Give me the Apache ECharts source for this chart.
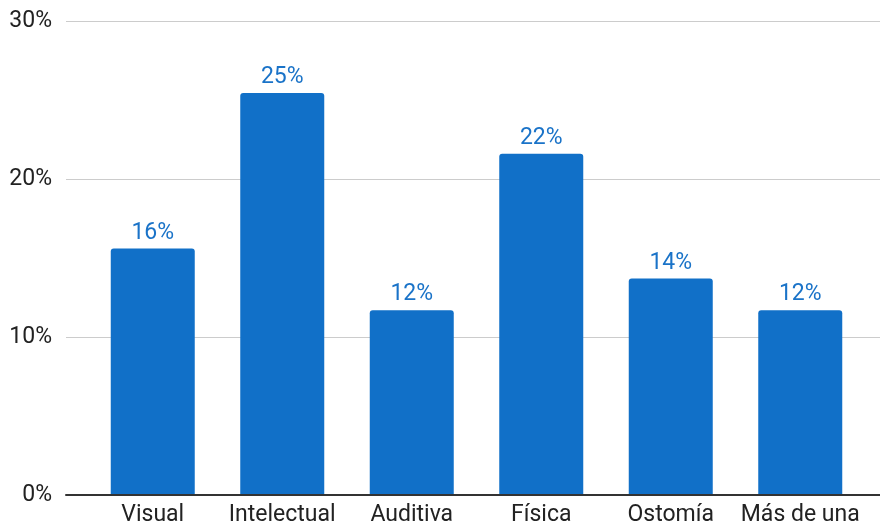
<!DOCTYPE html>
<html><head><meta charset="utf-8">
<script src="https://cdn.jsdelivr.net/npm/echarts@6/dist/echarts.min.js"></script>
<style>html,body{margin:0;padding:0;background:#fff}#c{width:880px;height:530px}</style>
</head><body><div id="c"></div>
<script>
var categories = ['Visual', 'Intelectual', 'Auditiva', 'Física', 'Ostomía', 'Más de una'];
var values = [15.6, 25.45, 11.7, 21.6, 13.7, 11.7];
var yTicks = [0, 10, 20, 30];

var chart = echarts.init(document.getElementById('c'), null, {renderer: 'canvas'});
var font = 'Roboto, "Liberation Sans", Arial, sans-serif';
chart.setOption({
  animation: false,
  grid: [
    {left: 66, right: 0, top: 21, bottom: 35, containLabel: false},
    {left: 88, right: 15, top: 21, bottom: 35, containLabel: false}
  ],
  xAxis: [
    {gridIndex: 0, type: 'category', data: [''], axisLine: {show: true, lineStyle: {color: '#333', width: 2}},
     axisTick: {show: false}, axisLabel: {show: false}, splitLine: {show: false}, z: 5},
    {gridIndex: 1, type: 'category', data: categories, axisLine: {show: false}, axisTick: {show: false},
     axisLabel: {color: '#222', fontSize: 23, fontFamily: font, margin: 9, interval: 0, hideOverlap: false}}
  ],
  yAxis: [
    {gridIndex: 0, type: 'value', min: yTicks[0], max: yTicks[yTicks.length - 1], interval: 10,
     axisLine: {show: false}, axisTick: {show: false},
     axisLabel: {color: '#222', fontSize: 23, fontFamily: font, margin: 14, formatter: '{value}%'},
     splitLine: {lineStyle: {color: '#cccccc', width: 1}}},
    {gridIndex: 1, type: 'value', min: yTicks[0], max: yTicks[yTicks.length - 1], interval: 10, show: false,
     splitLine: {show: false}}
  ],
  series: [{
    type: 'bar', xAxisIndex: 1, yAxisIndex: 1, data: values, barWidth: 84,
    itemStyle: {color: '#1170c8', borderRadius: [3, 3, 0, 0]},
    label: {show: true, position: 'top', distance: 4, color: '#1a73c8', fontSize: 23, fontFamily: font,
      formatter: function (p) { return Math.round(p.value) + '%'; }},
    z: 3
  }]
});
</script></body></html>
